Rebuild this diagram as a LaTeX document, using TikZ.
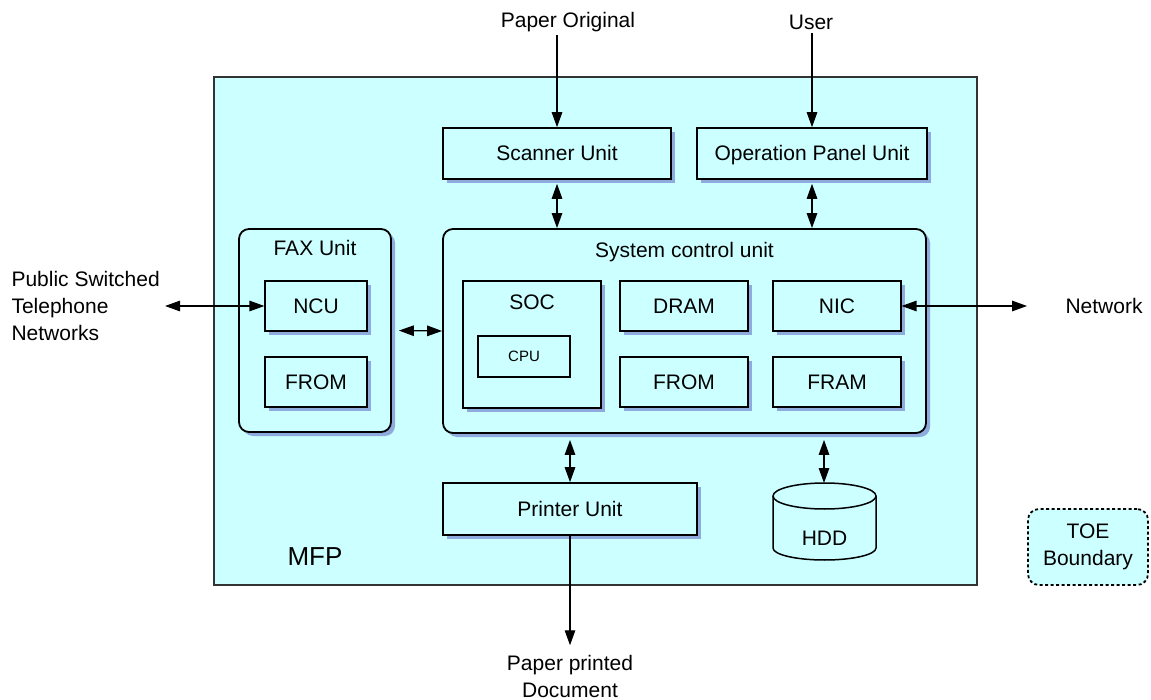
\documentclass[tikz,border=0pt]{standalone}
\usepackage{fontspec}
\setmainfont{Liberation Sans}
\usetikzlibrary{arrows.meta,shadows,positioning}

\definecolor{mfpfill}{RGB}{204,255,255}
\definecolor{shadowblue}{RGB}{143,170,220}

\tikzset{
	shade box/.style={drop shadow={shadow xshift=4pt,shadow yshift=-4pt,fill=shadowblue,opacity=1}},
	unitbox/.style={draw,line width=1.6pt,fill=mfpfill,inner sep=0pt,text height=15pt,text depth=0pt,shade box},
	subbox/.style={draw,line width=1.2pt,fill=mfpfill,inner sep=0pt,text height=15pt,text depth=0pt,shade box},
	groupbox/.style={draw,line width=1.8pt,fill=mfpfill,rounded corners=10pt,inner sep=0pt,shade box},
	link/.style={line width=1.3pt},
	>={Triangle[length=15pt,width=10.5pt]}
}

\begin{document}
\begin{tikzpicture}[x=1pt,y=-1pt,font=\fontsize{21}{27}\selectfont]
	\useasboundingbox (0,0) rectangle (1151,700);
	\node[draw=black!80,line width=1.5pt,fill=mfpfill,minimum width=763pt,minimum height=508pt] (mfp) at (595.5,331) {};
	\node[font=\fontsize{26}{30}\selectfont] (mfplabel) at (315,557) {MFP};

	\node[unitbox,minimum width=228pt,minimum height=51pt] (scanner) at (557,153.5) {Scanner Unit};
	\node[unitbox,minimum width=230pt,minimum height=51pt] (panel) at (812,153.5) {Operation Panel Unit};

	\node[groupbox,minimum width=152pt,minimum height=203pt] (fax) at (315,330.5) {};
	\node[below=9pt of fax.north] (faxtitle) {FAX Unit};
	\node[subbox,minimum width=102pt,minimum height=50pt] (ncu) at (316,306) {NCU};
	\node[subbox,minimum width=102pt,minimum height=50pt] (faxfrom) at (316,382) {FROM};

	\node[groupbox,minimum width=483pt,minimum height=204pt] (scu) at (684.5,331) {};
	\node[below=11pt of scu.north] (scutitle) {System control unit};
	\node[subbox,minimum width=138pt,minimum height=127pt] (soc) at (532,344.5) {};
	\node[below=11pt of soc.north] (soctitle) {SOC};
	\node[draw,line width=1.2pt,fill=mfpfill,minimum width=92pt,minimum height=41pt,font=\fontsize{15}{18}\selectfont] (cpu) at (524,356.5) {CPU};
	\node[subbox,minimum width=128pt,minimum height=50pt] (dram) at (684,306) {DRAM};
	\node[subbox,minimum width=128pt,minimum height=50pt] (nic) at (837,306) {NIC};
	\node[subbox,minimum width=128pt,minimum height=50pt] (scufrom) at (684,382) {FROM};
	\node[subbox,minimum width=128pt,minimum height=50pt] (fram) at (837,382) {FRAM};

	\node[unitbox,minimum width=254pt,minimum height=52pt] (printer) at (570,509) {Printer Unit};

	\fill[mfpfill] (773,496) -- (773,548) arc[start angle=180,end angle=360,x radius=51.5pt,y radius=12pt] -- (876,496) -- cycle;
	\draw[line width=1.5pt] (773,496) -- (773,548) arc[start angle=180,end angle=360,x radius=51.5pt,y radius=12pt] -- (876,496);
	\draw[line width=1.5pt,fill=mfpfill] (824.5,496) ellipse[x radius=51.5pt,y radius=13pt];
	\coordinate (hddtop) at (824,483);
	\node (hdd) at (824.5,538) {HDD};

	\node[draw,line width=1.8pt,dash pattern=on 3pt off 2.5pt,fill=mfpfill,rounded corners=11pt,minimum width=120pt,minimum height=76pt,align=center] (toe) at (1088,547) {TOE\\Boundary};

	\node (paper) at (568,22) {Paper Original};
	\node (user) at (811,22) {User};
	\node[align=left,anchor=west] (pstn) at (8,306) {Public Switched\\Telephone\\Networks};
	\node[anchor=west] (network) at (1062,306) {Network};
	\node[align=center] (printed) at (570,676) {Paper printed\\Document};
	\coordinate (pstnend) at (165,306);
	\coordinate (netend) at (1027,306);

	\draw[link,->] (paper.south -| scanner.north) -- (scanner.north);
	\draw[link,->] (user.south -| panel.north) -- (panel.north);
	\draw[link,<->,shorten <=4pt] (scanner.south) -- (scanner.south |- scu.north);
	\draw[link,<->,shorten <=4pt] (panel.south) -- (panel.south |- scu.north);
	\draw[link,<->] (pstnend) -- (ncu.west);
	\draw[link,<->] (nic.east) -- (netend);
	\draw[link,<->,shorten <=7pt] (fax.east) -- (scu.west);
	\draw[link,<->,shorten <=6pt] (scu.south -| printer.north) -- (printer.north);
	\draw[link,<->,shorten <=6pt] (scu.south -| hddtop) -- (hddtop);
	\draw[link,->,shorten >=6pt] (printer.south) -- (printed.north);
\end{tikzpicture}
\end{document}
